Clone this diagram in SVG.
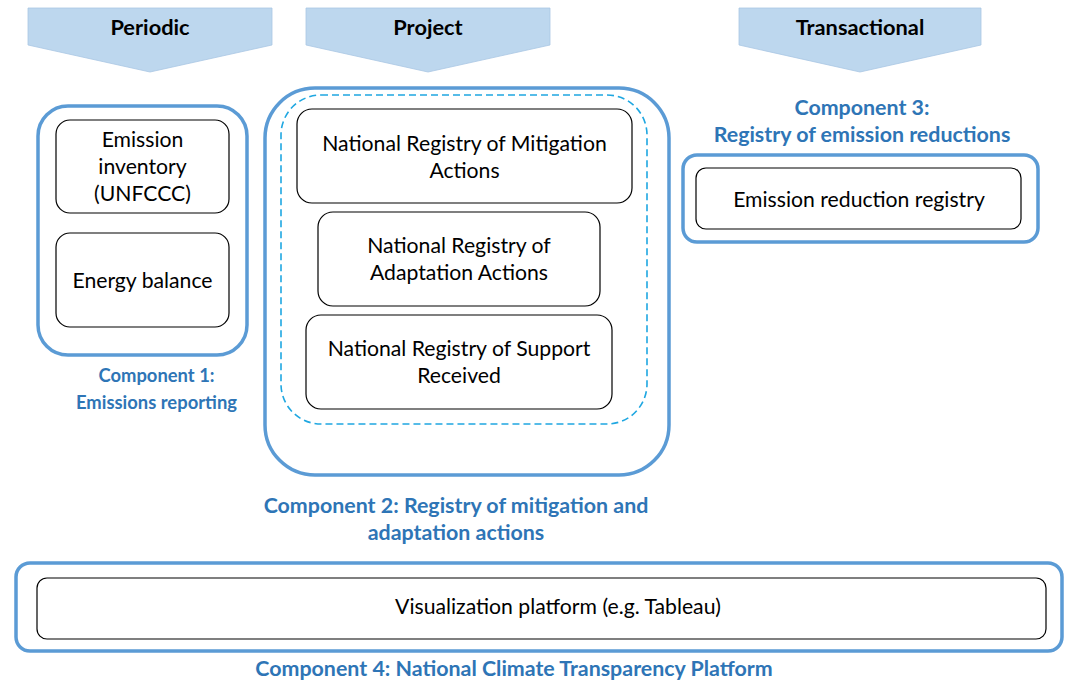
<svg xmlns="http://www.w3.org/2000/svg" width="1076" height="681" viewBox="0 0 1076 681">
<style>
.hdr{fill:#BDD7EE;stroke:#A9C7E3;stroke-width:0.8}
.hdrt{font-family:Lato,"Liberation Sans",sans-serif;font-weight:bold;font-size:21.8px;fill:#000;text-anchor:middle}
.comp{fill:#fff;stroke:#5B9BD5;stroke-width:3.5}
.box{fill:#fff;stroke:#000;stroke-width:1.2}
.dash{fill:none;stroke:#1FA7E1;stroke-width:1.6;stroke-dasharray:7 4}
.t{font-family:Lato,"Liberation Sans",sans-serif;font-size:21.2px;fill:#000;text-anchor:middle}
.lbl{font-family:Lato,"Liberation Sans",sans-serif;font-weight:bold;font-size:21.4px;fill:#2E75B6;text-anchor:middle}
.lbl1{font-size:18.4px}
</style>
<rect width="1076" height="681" fill="#fff"/>
<g id="headers">
<g id="periodic"><polygon class="hdr" points="28,8 272,8 272,45 150,72 28,45"/><text class="hdrt" x="150" y="35">Periodic</text></g>
<g id="project"><polygon class="hdr" points="306,8 550,8 550,45 428,72 306,45"/><text class="hdrt" x="428" y="35">Project</text></g>
<g id="transactional"><polygon class="hdr" points="739,8 981,8 981,45 860,72 739,45"/><text class="hdrt" x="860" y="35">Transactional</text></g>
</g>
<g id="component1">
<rect class="comp" x="38" y="106" width="209" height="249" rx="30"/>
<g id="emission-inventory"><rect class="box" x="56" y="120" width="173" height="93" rx="14"/>
<text class="t" x="142.5" y="147">Emission</text><text class="t" x="142.5" y="174">inventory</text><text class="t" x="142.5" y="201">(UNFCCC)</text></g>
<g id="energy-balance"><rect class="box" x="56" y="233" width="173" height="94" rx="14"/>
<text class="t" x="142.5" y="288">Energy balance</text></g>
<text class="lbl lbl1" x="156.5" y="382">Component 1:</text><text class="lbl lbl1" x="156.5" y="409">Emissions reporting</text>
</g>
<g id="component2">
<rect class="comp" x="265" y="88" width="404" height="387" rx="50"/>
<rect class="dash" x="281" y="95" width="366" height="329" rx="40"/>
<g id="mitigation"><rect class="box" x="297" y="109" width="335" height="94" rx="15"/>
<text class="t" x="464.5" y="151">National Registry of Mitigation</text><text class="t" x="464.5" y="178">Actions</text></g>
<g id="adaptation"><rect class="box" x="318" y="212" width="282" height="94" rx="15"/>
<text class="t" x="459" y="253">National Registry of</text><text class="t" x="459" y="280">Adaptation Actions</text></g>
<g id="support"><rect class="box" x="306" y="315" width="306" height="94" rx="15"/>
<text class="t" x="459" y="356">National Registry of Support</text><text class="t" x="459" y="383">Received</text></g>
<text class="lbl" x="456" y="513">Component 2: Registry of mitigation and</text><text class="lbl" x="456" y="540">adaptation actions</text>
</g>
<g id="component3">
<text class="lbl" x="862" y="115">Component 3:</text><text class="lbl" x="862" y="142">Registry of emission reductions</text>
<rect class="comp" x="683" y="155" width="355" height="87" rx="14"/>
<g id="emission-reduction-registry"><rect class="box" x="696" y="168" width="325" height="61" rx="10"/>
<text class="t" x="859" y="207">Emission reduction registry</text></g>
</g>
<g id="component4">
<rect class="comp" x="16" y="563" width="1046" height="88" rx="14"/>
<g id="visualization"><rect class="box" x="37" y="578" width="1009" height="61" rx="10"/>
<text class="t" x="558" y="614">Visualization platform (e.g. Tableau)</text></g>
<text class="lbl" x="514" y="676">Component 4: National Climate Transparency Platform</text>
</g>
<g id="connectors"></g>
</svg>
